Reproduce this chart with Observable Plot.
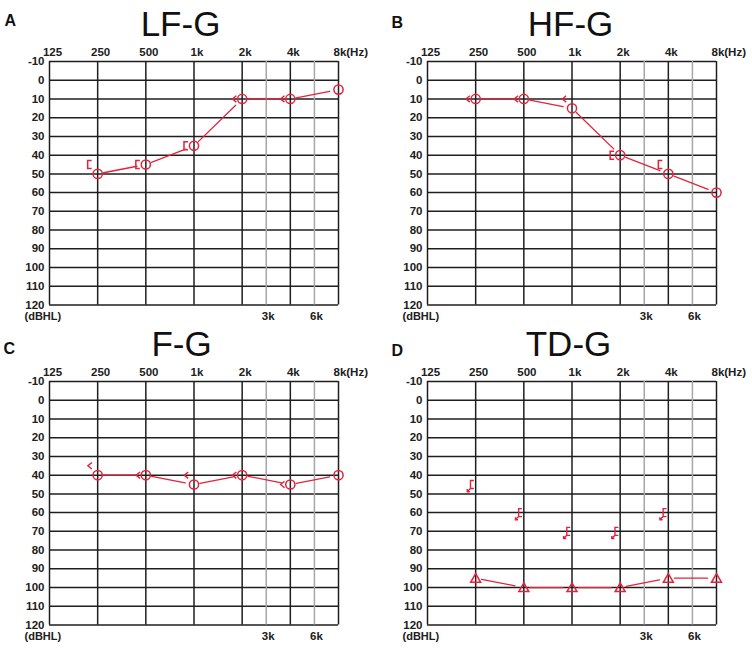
<!DOCTYPE html>
<html>
<head>
<meta charset="utf-8">
<script src="https://cdn.jsdelivr.net/npm/d3@7"></script>
<script src="https://cdn.jsdelivr.net/npm/@observablehq/plot@0.6"></script>
<style>
  html, body { margin: 0; padding: 0; background: #fff; }
  #root { position: relative; width: 752px; height: 658px; overflow: hidden; background: #fff; }
  .panel { position: absolute; overflow: hidden; }
</style>
</head>
<body>
<div id="root"></div>
<script>
// ---- axis ticks ----
const octaves = [125, 250, 500, 1000, 2000, 4000, 8000];
const octaveLabels = ["125", "250", "500", "1k", "2k", "4k", "8k(Hz)"];
const halfOctaves = [2828, 5657];           // 3k and 6k sit at the half-octave points
const halfLabels = ["3k", "6k"];
const dbTicks = [-10, 0, 10, 20, 30, 40, 50, 60, 70, 80, 90, 100, 110, 120];

// ---- test frequencies ----
const testFreqs = [250, 500, 1000, 2000, 4000, 8000];
const boneFreqs = [250, 500, 1000, 2000, 4000];

// ---- A: LF-G ----
const airA = [50, 45, 35, 10, 10, 5];
const boneA = [45, 45, 35, 10, 10];
const boneSymA = ["[", "[", "[", "<", "<"];

// ---- B: HF-G ----
const airB = [10, 10, 15, 40, 50, 60];
const boneB = [10, 10, 10, 40, 45];
const boneSymB = ["<", "<", "<", "[", "["];

// ---- C: F-G ----
const airC = [40, 40, 45, 40, 45, 40];
const boneC = [35, 40, 40, 40, 45];
const boneSymC = ["<", "<", "<", "<", "<"];

// ---- D: TD-G (masked air, bone no response) ----
const airD = [95, 100, 100, 100, 95, 95];
const boneD = [45, 60, 70, 70, 60];
const boneSymD = ["[nr", "[nr", "[nr", "[nr", "[nr"];

const RED = "#e3233a";
const DARK = "#1e1e1e";
const LABEL = "#202020";

const chevron = { draw(ctx, size) { const r = Math.sqrt(size / Math.PI);
  ctx.moveTo(r * 0.55, -r * 0.8); ctx.lineTo(-r * 0.45, 0); ctx.lineTo(r * 0.55, r * 0.8); } };
const bracket = { draw(ctx, size) { const r = Math.sqrt(size / Math.PI);
  ctx.moveTo(r * 0.5, -r); ctx.lineTo(-r * 0.5, -r); ctx.lineTo(-r * 0.5, r); ctx.lineTo(r * 0.5, r); } };
const bracketNR = { draw(ctx, size) { const r = Math.sqrt(size / Math.PI);
  ctx.moveTo(r * 0.55, -r); ctx.lineTo(-r * 0.3, -r); ctx.lineTo(-r * 0.3, r); ctx.lineTo(r * 0.55, r);
  ctx.moveTo(-r * 0.3, r); ctx.lineTo(-r * 1.1, r * 1.8);
  ctx.moveTo(-r * 1.1, r * 1.15); ctx.lineTo(-r * 1.1, r * 1.8); ctx.lineTo(-r * 0.45, r * 1.8); } };

const PANEL_H = 327;

function makePanel(cfg) {
  const { w, letter, title, titleDx, letterDx, letterDy, air, airSym, bone, boneSym } = cfg;
  const pts = testFreqs.map((f, i) => ({ f, db: air[i] }));
  const segs = pts.slice(1).map((p, i) => ({ f1: pts[i].f, d1: pts[i].db, f2: p.f, d2: p.db }));
  const bones = boneFreqs.map((f, i) => ({ f, db: bone[i], s: boneSym[i] }));
  const mL = 49, plotRight = 338, plotBottom = 304.5;
  const airMark = airSym === "triangle"
    ? Plot.dot(pts, { x: "f", y: "db", symbol: "triangle", r: 3.7, dy: 1.2, stroke: RED, strokeWidth: 1.5, fill: "none" })
    : Plot.dot(pts, { x: "f", y: "db", symbol: "circle", r: 4.6, stroke: RED, strokeWidth: 1.5, fill: "none" });
  const lab = { fontSize: 11.5, fontWeight: "bold", fill: LABEL, lineAnchor: "middle" };
  return Plot.plot({
    width: w, height: PANEL_H,
    marginLeft: mL, marginRight: w - plotRight, marginTop: 61, marginBottom: PANEL_H - plotBottom,
    x: { type: "log", base: 2, domain: [125, 8000], axis: null },
    y: { domain: [-10, 120], reverse: true, axis: null },
    style: { fontFamily: "Liberation Sans, Arial, sans-serif", background: "transparent", overflow: "hidden" },
    marks: [
      Plot.ruleY(dbTicks, { stroke: DARK, strokeWidth: 1.5 }),
      Plot.ruleX(halfOctaves, { stroke: "#a6a6a6", strokeWidth: 1.5 }),
      Plot.ruleX(octaves, { stroke: DARK, strokeWidth: 1.5 }),
      // left dB labels
      Plot.text(dbTicks, { frameAnchor: "left", y: d => d, text: d => String(d), textAnchor: "end", dx: -5, ...lab }),
      // top frequency labels
      Plot.text(octaves.slice(0, 6), { x: d => d, frameAnchor: "top", text: (d, i) => octaveLabels[i],
        textAnchor: "middle", dx: 3, dy: -9.5, ...lab }),
      Plot.text(octaves.slice(6), { x: d => d, frameAnchor: "top", text: (d, i) => octaveLabels[6 + i],
        textAnchor: "start", dx: -5, dy: -9.5, ...lab }),
      // bottom half-octave labels
      Plot.text(halfOctaves, { x: d => d, frameAnchor: "bottom", text: (d, i) => halfLabels[i],
        textAnchor: "middle", dx: 2, dy: 11, ...lab }),
      Plot.text(["(dBHL)"], { frameAnchor: "bottom-left", text: d => d, textAnchor: "start",
        dx: -25, dy: 11.5, ...lab, fontSize: 11 }),
      // title and panel letter
      Plot.text([title], { frameAnchor: "top-left", text: d => d, textAnchor: "middle", lineAnchor: "bottom",
        dx: titleDx, dy: -26, fontSize: 35, fill: "#111" }),
      Plot.text([letter], { frameAnchor: "top-left", text: d => d, textAnchor: "start", lineAnchor: "bottom",
        dx: letterDx, dy: letterDy, fontSize: 16, fontWeight: "bold", fill: "#111" }),
      // connecting lines
      Plot.arrow(segs, { x1: "f1", y1: "d1", x2: "f2", y2: "d2", headLength: 0, insetStart: 6, insetEnd: 9,
        stroke: RED, strokeWidth: 1.3 }),
      airMark,
      Plot.dot(bones.filter(b => b.s === "<"), { x: "f", y: "db", symbol: chevron, r: 4, dx: -8,
        stroke: RED, strokeWidth: 1.4, fill: "none" }),
      Plot.dot(bones.filter(b => b.s === "["), { x: "f", y: "db", symbol: bracket, r: 4, dx: -8,
        stroke: RED, strokeWidth: 1.5, fill: "none" }),
      Plot.dot(bones.filter(b => b.s === "[nr"), { x: "f", y: "db", symbol: bracketNR, r: 4, dx: -4,
        stroke: RED, strokeWidth: 1.4, fill: "none" })
    ]
  });
}

const panels = [
  { left: 0, top: 0, w: 376, letter: "A", title: "LF-G", titleDx: 131, letterDx: -45, letterDy: -36, air: airA, airSym: "circle", bone: boneA, boneSym: boneSymA },
  { left: 378, top: 0, w: 374, letter: "B", title: "HF-G", titleDx: 143, letterDx: -36, letterDy: -34, air: airB, airSym: "circle", bone: boneB, boneSym: boneSymB },
  { left: 0, top: 320, w: 376, letter: "C", title: "F-G", titleDx: 132, letterDx: -46, letterDy: -28, air: airC, airSym: "circle", bone: boneC, boneSym: boneSymC },
  { left: 378, top: 320, w: 374, letter: "D", title: "TD-G", titleDx: 141, letterDx: -36, letterDy: -26, air: airD, airSym: "triangle", bone: boneD, boneSym: boneSymD }
];

const root = document.getElementById("root");
for (const p of panels) {
  const div = document.createElement("div");
  div.className = "panel";
  div.style.left = p.left + "px";
  div.style.top = p.top + "px";
  div.style.width = p.w + "px";
  div.style.height = PANEL_H + "px";
  div.appendChild(makePanel(p));
  root.appendChild(div);
}
</script>
</body>
</html>
